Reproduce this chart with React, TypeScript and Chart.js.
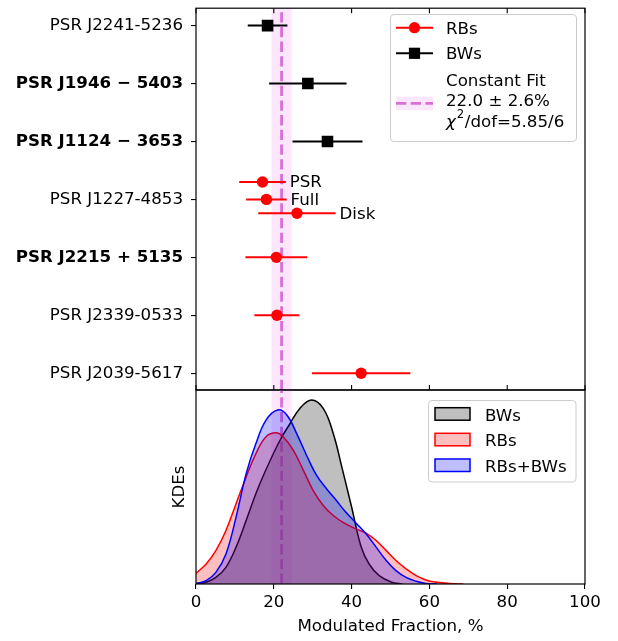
import React, { useEffect, useRef } from 'react';
import { Chart, registerables } from 'chart.js';

Chart.register(...registerables);

const FONT = '"DejaVu Sans", sans-serif';
const FS = 16.67;

// ---- top panel data ----
const pulsarNames = [
  'PSR J2241-5236',
  'PSR J1946 \u2212 5403',
  'PSR J1124 \u2212 3653',
  'PSR J1227-4853',
  'PSR J2215 + 5135',
  'PSR J2339-0533',
  'PSR J2039-5617',
];
const pulsarBold = [false, true, true, false, true, false, false];

const rbRows = [2.7, 3.0, 3.24, 4, 5, 6];
const rbValues = [17.1, 18.1, 25.95, 20.65, 20.8, 42.45];
const rbErrors = [6.0, 5.2, 9.95, 7.95, 5.8, 12.65];
const rbNotes = ['PSR', 'Full', 'Disk', '', '', ''];

const bwRows = [0, 1, 2];
const bwValues = [18.4, 28.75, 33.8];
const bwErrors = [5.1, 9.95, 9.0];

const fitValue = 22.0;
const fitError = 2.6;
const fitLines = ['Constant Fit', '22.0 \u00b1 2.6%'];
const fitChiText = '/dof=5.85/6';

const seriesLabels = ['RBs', 'BWs'];
const xTickValues = [0, 20, 40, 60, 80, 100];

// ---- bottom panel (KDE) data ----
const kdeLabels = ['BWs', 'RBs', 'RBs+BWs'];
const kdeBwX = [0, 2.6, 5.1, 7.7, 10.3, 12.9, 15.4, 18.0, 21.6, 24.2, 26.7, 29.7, 32.7, 35.3, 37.4, 40.0, 42.4, 44.5, 47.1, 50.3, 53.0];
const kdeBwY = [0, 0.009, 0.034, 0.086, 0.19, 0.328, 0.466, 0.59, 0.741, 0.828, 0.905, 0.948, 0.905, 0.775, 0.61, 0.397, 0.195, 0.103, 0.043, 0.009, 0];
const kdeRbX = [0, 2.6, 5.1, 7.7, 10.3, 12.9, 15.4, 18.0, 20.6, 22.4, 25.0, 27.6, 30.1, 32.7, 35.3, 37.9, 41.1, 43.7, 46.3, 48.9, 51.4, 54.0, 56.6, 59.1, 61.5, 65.3, 68.7];
const kdeRbY = [0.055, 0.103, 0.172, 0.276, 0.414, 0.552, 0.672, 0.759, 0.779, 0.759, 0.69, 0.586, 0.483, 0.405, 0.353, 0.316, 0.284, 0.262, 0.224, 0.172, 0.121, 0.078, 0.043, 0.021, 0.01, 0.002, 0];
const kdeAllX = [0, 2.6, 5.1, 7.7, 10.3, 12.9, 15.4, 18.0, 21.0, 23.4, 26.0, 28.5, 31.0, 33.6, 36.1, 38.3, 41.1, 43.7, 46.3, 48.9, 51.4, 54.0, 56.6, 59.1, 62.0];
const kdeAllY = [0.003, 0.017, 0.06, 0.155, 0.345, 0.569, 0.724, 0.845, 0.897, 0.87, 0.77, 0.66, 0.56, 0.49, 0.43, 0.375, 0.315, 0.259, 0.19, 0.121, 0.069, 0.034, 0.014, 0.003, 0];

const FIT_COLOR = '#DA70D6';
const BAND_COLOR = 'rgba(238,130,238,0.2)';
const KDE_EDGE = ['black', 'red', 'blue'];
const KDE_FILL = ['rgba(128,128,128,0.5)', 'rgba(255,0,0,0.25)', 'rgba(0,0,255,0.25)'];

function roundRect(ctx: CanvasRenderingContext2D, x: number, y: number, w: number, h: number, r: number) {
  ctx.beginPath();
  ctx.moveTo(x + r, y);
  ctx.lineTo(x + w - r, y);
  ctx.arcTo(x + w, y, x + w, y + r, r);
  ctx.lineTo(x + w, y + h - r);
  ctx.arcTo(x + w, y + h, x + w - r, y + h, r);
  ctx.lineTo(x + r, y + h);
  ctx.arcTo(x, y + h, x, y + h - r, r);
  ctx.lineTo(x, y + r);
  ctx.arcTo(x, y, x + r, y, r);
  ctx.closePath();
}

function drawBand(chart: any) {
  const { ctx, chartArea: a, scales } = chart;
  const x = scales.x;
  ctx.save();
  const bl = x.getPixelForValue(fitValue - fitError);
  const br = x.getPixelForValue(fitValue + fitError);
  ctx.fillStyle = BAND_COLOR;
  ctx.fillRect(bl, a.top, br - bl, a.bottom - a.top);
  const fx = x.getPixelForValue(fitValue);
  ctx.strokeStyle = FIT_COLOR;
  ctx.lineWidth = 2.8;
  ctx.setLineDash([10.3, 4.4]);
  ctx.beginPath();
  ctx.moveTo(fx, a.bottom);
  ctx.lineTo(fx, a.top);
  ctx.stroke();
  ctx.restore();
}

function drawFrame(chart: any) {
  const { ctx, chartArea: a } = chart;
  ctx.save();
  ctx.strokeStyle = 'black';
  ctx.lineWidth = 1.2;
  ctx.strokeRect(a.left, a.top, a.right - a.left, a.bottom - a.top);
  ctx.restore();
}

const topPlugin = {
  id: 'topPanel',
  beforeDatasetsDraw(chart: any) {
    drawBand(chart);
    const { ctx, scales } = chart;
    const x = scales.x;
    const y = scales.y;
    ctx.save();
    ctx.lineWidth = 2;
    ctx.strokeStyle = 'red';
    rbRows.forEach((r, i) => {
      const py = y.getPixelForValue(r);
      ctx.beginPath();
      ctx.moveTo(x.getPixelForValue(rbValues[i] - rbErrors[i]), py);
      ctx.lineTo(x.getPixelForValue(rbValues[i] + rbErrors[i]), py);
      ctx.stroke();
    });
    ctx.strokeStyle = 'black';
    bwRows.forEach((r, i) => {
      const py = y.getPixelForValue(r);
      ctx.beginPath();
      ctx.moveTo(x.getPixelForValue(bwValues[i] - bwErrors[i]), py);
      ctx.lineTo(x.getPixelForValue(bwValues[i] + bwErrors[i]), py);
      ctx.stroke();
    });
    ctx.restore();
  },
  afterDatasetsDraw(chart: any) {
    const { ctx, scales } = chart;
    const x = scales.x;
    const y = scales.y;
    ctx.save();
    ctx.font = `${FS}px ${FONT}`;
    ctx.fillStyle = 'black';
    ctx.textAlign = 'left';
    ctx.textBaseline = 'middle';
    rbNotes.forEach((n, i) => {
      if (!n) return;
      ctx.fillText(n, x.getPixelForValue(rbValues[i] + rbErrors[i] + 1), y.getPixelForValue(rbRows[i]) + 1);
    });
    ctx.restore();
  },
  afterDraw(chart: any) {
    const { ctx, chartArea: a, scales } = chart;
    const x = scales.x;
    drawFrame(chart);
    ctx.save();
    ctx.strokeStyle = 'black';
    ctx.lineWidth = 1.1;
    xTickValues.forEach((v) => {
      const px = x.getPixelForValue(v);
      ctx.beginPath();
      ctx.moveTo(px, a.top);
      ctx.lineTo(px, a.top + 5);
      ctx.moveTo(px, a.bottom);
      ctx.lineTo(px, a.bottom - 5);
      ctx.stroke();
    });
    // legend
    roundRect(ctx, 390.5, 14.5, 186, 127, 3.5);
    ctx.fillStyle = 'rgba(255,255,255,0.8)';
    ctx.fill();
    ctx.strokeStyle = '#cccccc';
    ctx.lineWidth = 1;
    ctx.stroke();

    ctx.lineWidth = 2;
    ctx.strokeStyle = 'red';
    ctx.beginPath();
    ctx.moveTo(396, 27.7);
    ctx.lineTo(433, 27.7);
    ctx.stroke();
    ctx.fillStyle = 'red';
    ctx.beginPath();
    ctx.arc(414.5, 27.7, 5.6, 0, Math.PI * 2);
    ctx.fill();

    ctx.strokeStyle = 'black';
    ctx.beginPath();
    ctx.moveTo(396, 53.3);
    ctx.lineTo(433, 53.3);
    ctx.stroke();
    ctx.fillStyle = 'black';
    ctx.fillRect(414.5 - 5.6, 53.3 - 5.6, 11.2, 11.2);

    ctx.fillStyle = BAND_COLOR;
    ctx.fillRect(396, 96.7, 37, 13.3);
    ctx.strokeStyle = FIT_COLOR;
    ctx.lineWidth = 2.8;
    ctx.setLineDash([10.3, 4.4]);
    ctx.beginPath();
    ctx.moveTo(396, 103.3);
    ctx.lineTo(433, 103.3);
    ctx.stroke();
    ctx.setLineDash([]);

    ctx.fillStyle = 'black';
    ctx.font = `${FS}px ${FONT}`;
    ctx.textAlign = 'left';
    ctx.textBaseline = 'alphabetic';
    ctx.fillText(seriesLabels[0], 446, 33.5);
    ctx.fillText(seriesLabels[1], 446, 59);
    ctx.fillText(fitLines[0], 446, 86);
    ctx.fillText(fitLines[1], 446, 105.5);
    ctx.font = `italic ${FS}px ${FONT}`;
    ctx.fillText('\u03c7', 446, 126.5);
    const chiW = ctx.measureText('\u03c7').width;
    ctx.font = `${FS * 0.7}px ${FONT}`;
    ctx.fillText('2', 446 + chiW + 1, 117.5);
    const twoW = ctx.measureText('2').width;
    ctx.font = `${FS}px ${FONT}`;
    ctx.fillText(fitChiText, 446 + chiW + 1 + twoW + 0.5, 126.5);
    ctx.restore();
  },
};

const bottomPlugin = {
  id: 'bottomPanel',
  beforeDatasetsDraw(chart: any) {
    drawBand(chart);
  },
  afterDraw(chart: any) {
    const { ctx } = chart;
    drawFrame(chart);
    ctx.save();
    roundRect(ctx, 428.5, 400.5, 147.5, 81.5, 3.5);
    ctx.fillStyle = 'rgba(255,255,255,0.8)';
    ctx.fill();
    ctx.strokeStyle = '#cccccc';
    ctx.lineWidth = 1;
    ctx.stroke();
    const rowsY = [407.7, 433.3, 459.0];
    const baseY = [420.5, 446, 471.5];
    ctx.font = `${FS}px ${FONT}`;
    ctx.textAlign = 'left';
    ctx.textBaseline = 'alphabetic';
    kdeLabels.forEach((lab, i) => {
      ctx.fillStyle = KDE_FILL[i];
      ctx.fillRect(435, rowsY[i], 35, 12.5);
      ctx.strokeStyle = KDE_EDGE[i];
      ctx.lineWidth = 1.5;
      ctx.strokeRect(435, rowsY[i], 35, 12.5);
      ctx.fillStyle = 'black';
      ctx.fillText(lab, 485, baseY[i]);
    });
    ctx.restore();
  },
};

export default function App() {
  const ref1 = useRef<HTMLCanvasElement>(null);
  const ref2 = useRef<HTMLCanvasElement>(null);

  useEffect(() => {
    Chart.defaults.font.family = FONT;
    Chart.defaults.font.size = FS;
    Chart.defaults.color = 'black';

    const c1 = new Chart(ref1.current as HTMLCanvasElement, {
      type: 'scatter',
      data: {
        datasets: [
          {
            label: seriesLabels[0],
            data: rbRows.map((r, i) => ({ x: rbValues[i], y: r })),
            backgroundColor: 'red',
            borderColor: 'red',
            borderWidth: 0,
            pointStyle: 'circle',
            pointRadius: 5.7,
          },
          {
            label: seriesLabels[1],
            data: bwRows.map((r, i) => ({ x: bwValues[i], y: r })),
            backgroundColor: 'black',
            borderColor: 'black',
            borderWidth: 0,
            pointStyle: 'rect',
            pointRadius: 8.2,
          },
        ],
      },
      options: {
        animation: false,
        responsive: false,
        devicePixelRatio: 1,
        layout: { padding: { left: 0, top: 5, right: 33, bottom: 251 } },
        plugins: { legend: { display: false }, tooltip: { enabled: false } },
        scales: {
          x: { type: 'linear', min: 0, max: 100, display: false },
          y: {
            type: 'linear',
            min: -0.3,
            max: 6.29,
            reverse: true,
            afterBuildTicks: (s: any) => {
              s.ticks = pulsarNames.map((_, i) => ({ value: i }));
            },
            afterFit: (s: any) => {
              s.width = 196;
              s.paddingTop = 0;
              s.paddingBottom = 0;
            },
            ticks: {
              autoSkip: false,
              padding: 8,
              color: 'black',
              callback: (v: any) => pulsarNames[v],
              font: (ctx: any) => ({ family: FONT, size: FS, weight: pulsarBold[ctx.index] ? 'bold' : 'normal' }),
            },
            grid: { drawOnChartArea: false, tickLength: 5, color: 'black', lineWidth: 1.1 },
            border: { display: false },
          },
        },
      },
      plugins: [topPlugin],
    } as any);

    const c2 = new Chart(ref2.current as HTMLCanvasElement, {
      type: 'line',
      data: {
        datasets: [
          {
            label: kdeLabels[0],
            data: kdeBwX.map((x, i) => ({ x, y: kdeBwY[i] })),
            borderColor: KDE_EDGE[0],
            backgroundColor: KDE_FILL[0],
            fill: 'origin',
            order: 3,
          },
          {
            label: kdeLabels[1],
            data: kdeRbX.map((x, i) => ({ x, y: kdeRbY[i] })),
            borderColor: KDE_EDGE[1],
            backgroundColor: KDE_FILL[1],
            fill: 'origin',
            order: 2,
          },
          {
            label: kdeLabels[2],
            data: kdeAllX.map((x, i) => ({ x, y: kdeAllY[i] })),
            borderColor: KDE_EDGE[2],
            backgroundColor: KDE_FILL[2],
            fill: 'origin',
            order: 1,
          },
        ],
      },
      options: {
        animation: false,
        responsive: false,
        devicePixelRatio: 1,
        elements: {
          point: { radius: 0 },
          line: { borderWidth: 1.5, tension: 0.4, capBezierPoints: true },
        },
        layout: { padding: { left: 0, top: 390, right: 33, bottom: 0 } },
        plugins: { legend: { display: false }, tooltip: { enabled: false } },
        scales: {
          x: {
            type: 'linear',
            min: 0,
            max: 100,
            afterBuildTicks: (s: any) => {
              s.ticks = xTickValues.map((v) => ({ value: v }));
            },
            afterFit: (s: any) => {
              s.height = 57;
            },
            ticks: { padding: 3.5, color: 'black', maxRotation: 0, font: { family: FONT, size: FS } },
            grid: { drawOnChartArea: false, tickLength: 5, color: 'black', lineWidth: 1.1 },
            border: { display: false },
            title: {
              display: true,
              text: 'Modulated Fraction, %',
              color: 'black',
              font: { family: FONT, size: FS },
              padding: { top: 0, bottom: 4 },
            },
          },
          y: {
            type: 'linear',
            min: 0,
            max: 1,
            afterFit: (s: any) => {
              s.width = 196;
            },
            ticks: { display: false },
            grid: { display: false },
            border: { display: false },
            title: {
              display: true,
              text: 'KDEs',
              color: 'black',
              font: { family: FONT, size: FS },
              padding: { top: 170, bottom: 0 },
            },
          },
        },
      },
      plugins: [bottomPlugin],
    } as any);

    return () => {
      c1.destroy();
      c2.destroy();
    };
  }, []);

  const canvasStyle: React.CSSProperties = { position: 'absolute', left: 0, top: 0, width: 618, height: 641 };
  return (
    <div style={{ position: 'absolute', left: 0, top: 0, width: 618, height: 641, background: 'white' }}>
      <canvas ref={ref1} width={618} height={641} style={canvasStyle} />
      <canvas ref={ref2} width={618} height={641} style={canvasStyle} />
    </div>
  );
}
